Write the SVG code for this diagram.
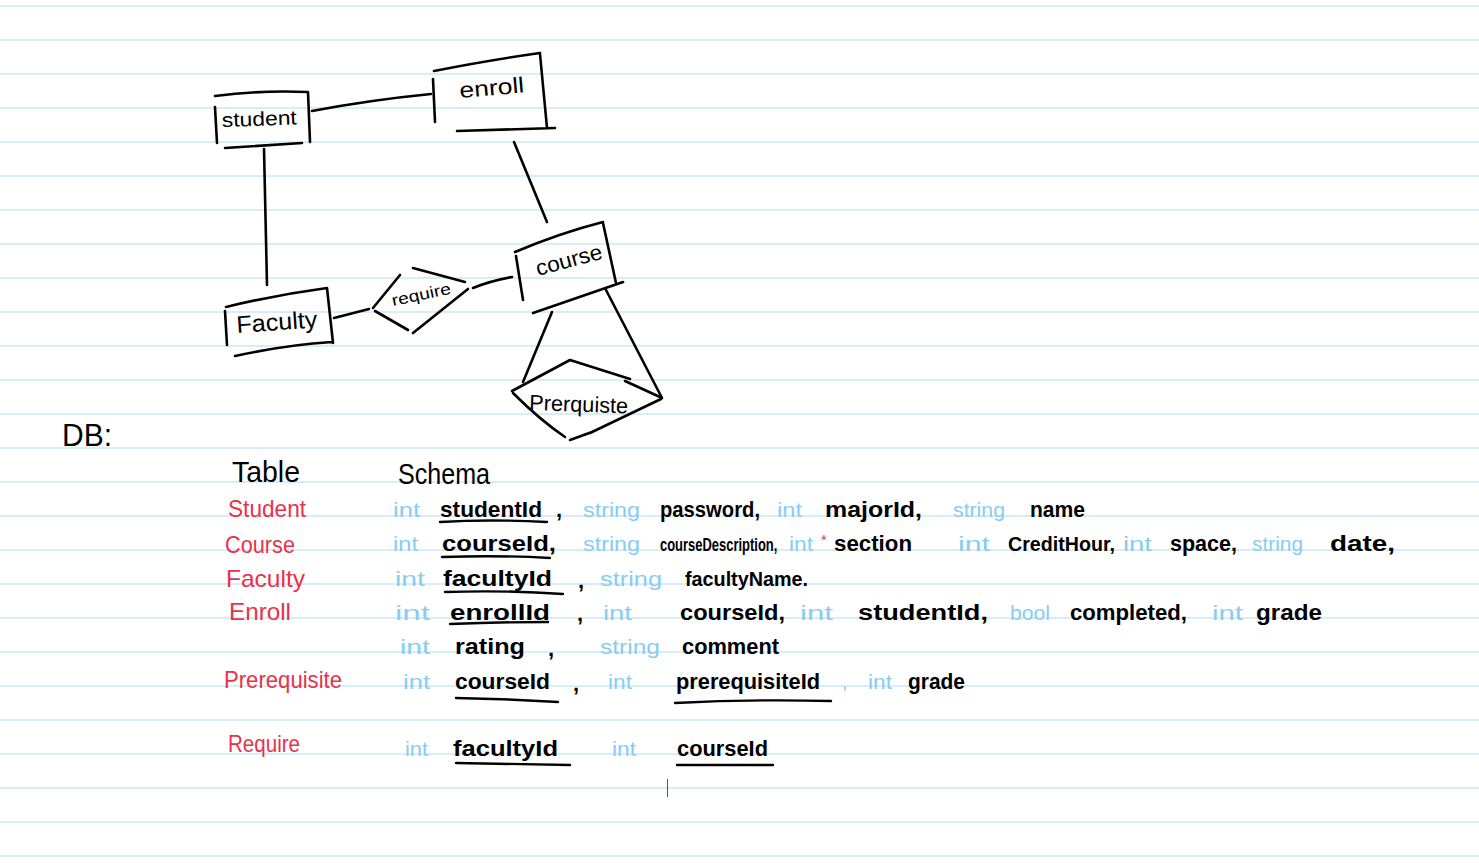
<svg xmlns="http://www.w3.org/2000/svg" width="1479" height="863" viewBox="0 0 1479 863">
<defs>
<style>
.rule{stroke:#cbe7f8;stroke-width:1.5}
.ink{fill:none;stroke:#000;stroke-width:2.6;stroke-linecap:round;stroke-linejoin:round}
.ul{fill:none;stroke:#000;stroke-width:2.4;stroke-linecap:round}
.lbl{font-family:"Liberation Sans",Arial,sans-serif;fill:#000}
.b{font-family:"Liberation Sans",Arial,sans-serif;font-size:22px;font-weight:bold;fill:#000}
.t{font-family:"Liberation Sans",Arial,sans-serif;font-size:20px;fill:#86cdf1}
.r{font-family:"Liberation Sans",Arial,sans-serif;font-size:24px;fill:#e8324a}
.h{font-family:"Liberation Sans",Arial,sans-serif;font-size:30px;fill:#000}
</style>
</defs>
<rect width="1479" height="863" fill="#fff"/>
<g id="paper-rules">
<line class="rule" x1="0" y1="6" x2="1479" y2="6"/>
<line class="rule" x1="0" y1="40" x2="1479" y2="40"/>
<line class="rule" x1="0" y1="74" x2="1479" y2="74"/>
<line class="rule" x1="0" y1="108" x2="1479" y2="108"/>
<line class="rule" x1="0" y1="142" x2="1479" y2="142"/>
<line class="rule" x1="0" y1="176" x2="1479" y2="176"/>
<line class="rule" x1="0" y1="210" x2="1479" y2="210"/>
<line class="rule" x1="0" y1="244" x2="1479" y2="244"/>
<line class="rule" x1="0" y1="278" x2="1479" y2="278"/>
<line class="rule" x1="0" y1="312" x2="1479" y2="312"/>
<line class="rule" x1="0" y1="346" x2="1479" y2="346"/>
<line class="rule" x1="0" y1="380" x2="1479" y2="380"/>
<line class="rule" x1="0" y1="414" x2="1479" y2="414"/>
<line class="rule" x1="0" y1="448" x2="1479" y2="448"/>
<line class="rule" x1="0" y1="482" x2="1479" y2="482"/>
<line class="rule" x1="0" y1="516" x2="1479" y2="516"/>
<line class="rule" x1="0" y1="550" x2="1479" y2="550"/>
<line class="rule" x1="0" y1="584" x2="1479" y2="584"/>
<line class="rule" x1="0" y1="618" x2="1479" y2="618"/>
<line class="rule" x1="0" y1="652" x2="1479" y2="652"/>
<line class="rule" x1="0" y1="686" x2="1479" y2="686"/>
<line class="rule" x1="0" y1="720" x2="1479" y2="720"/>
<line class="rule" x1="0" y1="754" x2="1479" y2="754"/>
<line class="rule" x1="0" y1="788" x2="1479" y2="788"/>
<line class="rule" x1="0" y1="822" x2="1479" y2="822"/>
<line class="rule" x1="0" y1="856" x2="1479" y2="856"/>
</g>
<g id="connectors">
<path class="ink" d="M312,111 Q370,100 431,94"/>
<path class="ink" d="M264,149 L267,285"/>
<path class="ink" d="M514,142 L547,222"/>
<path class="ink" d="M334,318 L369,309"/>
<path class="ink" d="M473,288 Q490,281 512,277"/>
<path class="ink" d="M552,312 L523,382"/>
<path class="ink" d="M606,290 L662,398"/>
</g>
<g id="node-student">
<path class="ink" d="M215,96 Q260,90 308,92 M215,107 L217,143 M308,92 L310,142 M225,148 L302,143"/>
<text class="lbl" x="222" y="127" font-size="20" textLength="75" lengthAdjust="spacingAndGlyphs" transform="rotate(-2 222 127)">student</text>
</g>
<g id="node-enroll">
<path class="ink" d="M434,71 Q490,60 540,53 M433,79 L435,122 M540,54 L547,128 M457,131 L555,128"/>
<text class="lbl" x="460" y="98" font-size="22" textLength="65" lengthAdjust="spacingAndGlyphs" transform="rotate(-5 460 98)">enroll</text>
</g>
<g id="node-course">
<path class="ink" d="M515,252 Q560,233 603,222 M516,256 L523,300 M603,223 L616,283 M533,313 L623,282"/>
<text class="lbl" x="538" y="276" font-size="22" textLength="68" lengthAdjust="spacingAndGlyphs" transform="rotate(-15 538 276)">course</text>
</g>
<g id="node-faculty">
<path class="ink" d="M226,307 Q275,295 327,288 M225,311 L227,345 M327,288 L333,343 M235,356 Q285,345 332,342"/>
<text class="lbl" x="237" y="333" font-size="24" textLength="81" lengthAdjust="spacingAndGlyphs" transform="rotate(-4 237 333)">Faculty</text>
</g>
<g id="node-require">
<path class="ink" d="M373,308 L400,275 M413,268 L465,282 M468,289 L413,333 M375,311 L408,330"/>
<text class="lbl" x="393" y="306" font-size="16" textLength="60" lengthAdjust="spacingAndGlyphs" transform="rotate(-12 393 306)">require</text>
</g>
<g id="node-prerquiste">
<path class="ink" d="M512,391 L570,360 L630,379 M625,381 L660,397 M513,393 Q540,420 565,437 M661,399 L590,433 M570,440 L592,432"/>
<text class="lbl" x="529" y="410" font-size="22" textLength="99" lengthAdjust="spacingAndGlyphs" transform="rotate(2 529 410)">Prerquiste</text>
</g>
<g id="db-heading">
<text class="h" x="62" y="446" style="font-size:32px" textLength="50" lengthAdjust="spacingAndGlyphs">DB:</text>
<text class="h" x="232" y="482" textLength="68" lengthAdjust="spacingAndGlyphs">Table</text>
<text class="h" x="398" y="484" textLength="92" lengthAdjust="spacingAndGlyphs">Schema</text>
</g>
<g id="table-names">
<text class="r" x="228" y="517" textLength="78" lengthAdjust="spacingAndGlyphs">Student</text>
<text class="r" x="225" y="553" textLength="70" lengthAdjust="spacingAndGlyphs">Course</text>
<text class="r" x="226" y="587" textLength="79" lengthAdjust="spacingAndGlyphs">Faculty</text>
<text class="r" x="229" y="620" textLength="62" lengthAdjust="spacingAndGlyphs">Enroll</text>
<text class="r" x="224" y="688" textLength="118" lengthAdjust="spacingAndGlyphs">Prerequisite</text>
<text class="r" x="228" y="752" textLength="72" lengthAdjust="spacingAndGlyphs">Require</text>
</g>
<g id="row-student">
<text class="t" x="393" y="517" textLength="27" lengthAdjust="spacingAndGlyphs">int</text>
<text class="b" x="440" y="517" textLength="102" lengthAdjust="spacingAndGlyphs">studentId</text>
<text class="b" x="556" y="517">,</text>
<text class="t" x="583" y="517" textLength="57" lengthAdjust="spacingAndGlyphs">string</text>
<text class="b" x="660" y="517" textLength="100" lengthAdjust="spacingAndGlyphs">password,</text>
<text class="t" x="777" y="517" textLength="25" lengthAdjust="spacingAndGlyphs">int</text>
<text class="b" x="825" y="517" textLength="97" lengthAdjust="spacingAndGlyphs">majorId,</text>
<text class="t" x="953" y="517" textLength="52" lengthAdjust="spacingAndGlyphs">string</text>
<text class="b" x="1030" y="517" textLength="55" lengthAdjust="spacingAndGlyphs">name</text>
<path class="ul" d="M440,522 Q490,519 547,522"/>
</g>
<g id="row-course">
<text class="t" x="393" y="551" textLength="25" lengthAdjust="spacingAndGlyphs">int</text>
<text class="b" x="442" y="551" textLength="114" lengthAdjust="spacingAndGlyphs">courseId,</text>
<text class="t" x="583" y="551" textLength="57" lengthAdjust="spacingAndGlyphs">string</text>
<text class="b" style="font-size:18px" transform="translate(660 551) scale(0.72 1)">courseDescription,</text>
<text class="t" x="789" y="551" textLength="24" lengthAdjust="spacingAndGlyphs">int</text>
<text x="821" y="545" font-family="Liberation Sans, Arial, sans-serif" font-size="15" fill="#e8324a">*</text>
<text class="b" x="834" y="551" textLength="78" lengthAdjust="spacingAndGlyphs">section</text>
<text class="t" x="958" y="551" textLength="32" lengthAdjust="spacingAndGlyphs">int</text>
<text class="b" x="1008" y="551" style="font-size:20px" textLength="107" lengthAdjust="spacingAndGlyphs">CreditHour,</text>
<text class="t" x="1123" y="551" textLength="29" lengthAdjust="spacingAndGlyphs">int</text>
<text class="b" x="1170" y="551" textLength="67" lengthAdjust="spacingAndGlyphs">space,</text>
<text class="t" x="1252" y="551" textLength="51" lengthAdjust="spacingAndGlyphs">string</text>
<text class="b" x="1330" y="551" textLength="65" lengthAdjust="spacingAndGlyphs">date,</text>
<path class="ul" d="M442,557 Q500,555 550,558"/>
</g>
<g id="row-faculty">
<text class="t" x="395" y="586" textLength="30" lengthAdjust="spacingAndGlyphs">int</text>
<text class="b" x="443" y="586" textLength="109" lengthAdjust="spacingAndGlyphs">facultyId</text>
<text class="b" x="578" y="588">,</text>
<text class="t" x="600" y="586" textLength="62" lengthAdjust="spacingAndGlyphs">string</text>
<text class="b" x="685" y="586" style="font-size:20px" textLength="123" lengthAdjust="spacingAndGlyphs">facultyName.</text>
<path class="ul" d="M445,592 Q505,590 563,594"/>
</g>
<g id="row-enroll">
<text class="t" x="395" y="620" textLength="35" lengthAdjust="spacingAndGlyphs">int</text>
<text class="b" x="450" y="620" textLength="100" lengthAdjust="spacingAndGlyphs">enrollId</text>
<text class="b" x="577" y="621">,</text>
<text class="t" x="603" y="620" textLength="29" lengthAdjust="spacingAndGlyphs">int</text>
<text class="b" x="680" y="620" textLength="105" lengthAdjust="spacingAndGlyphs">courseId,</text>
<text class="t" x="800" y="620" textLength="33" lengthAdjust="spacingAndGlyphs">int</text>
<text class="b" x="858" y="620" textLength="130" lengthAdjust="spacingAndGlyphs">studentId,</text>
<text class="t" x="1010" y="620" textLength="40" lengthAdjust="spacingAndGlyphs">bool</text>
<text class="b" x="1070" y="620" textLength="117" lengthAdjust="spacingAndGlyphs">completed,</text>
<text class="t" x="1212" y="620" textLength="31" lengthAdjust="spacingAndGlyphs">int</text>
<text class="b" x="1256" y="620" textLength="66" lengthAdjust="spacingAndGlyphs">grade</text>
<path class="ul" d="M450,624 Q500,622 548,622"/>
</g>
<g id="row-enroll-2">
<text class="t" x="400" y="654" textLength="30" lengthAdjust="spacingAndGlyphs">int</text>
<text class="b" x="455" y="654" textLength="70" lengthAdjust="spacingAndGlyphs">rating</text>
<text class="b" x="548" y="656">,</text>
<text class="t" x="600" y="654" textLength="60" lengthAdjust="spacingAndGlyphs">string</text>
<text class="b" x="682" y="654" textLength="97" lengthAdjust="spacingAndGlyphs">comment</text>
</g>
<g id="row-prerequisite">
<text class="t" x="403" y="689" textLength="27" lengthAdjust="spacingAndGlyphs">int</text>
<text class="b" x="455" y="689" textLength="95" lengthAdjust="spacingAndGlyphs">courseId</text>
<text class="b" x="573" y="691">,</text>
<text class="t" x="608" y="689" textLength="24" lengthAdjust="spacingAndGlyphs">int</text>
<text class="b" x="676" y="689" textLength="144" lengthAdjust="spacingAndGlyphs">prerequisiteId</text>
<text class="t" x="842" y="689">,</text>
<text class="t" x="868" y="689" textLength="24" lengthAdjust="spacingAndGlyphs">int</text>
<text class="b" x="908" y="689" textLength="57" lengthAdjust="spacingAndGlyphs">grade</text>
<path class="ul" d="M456,698 Q510,699 558,702"/>
<path class="ul" d="M675,703 Q750,699 831,701"/>
</g>
<g id="row-require">
<text class="t" x="405" y="756" textLength="23" lengthAdjust="spacingAndGlyphs">int</text>
<text class="b" x="453" y="756" textLength="105" lengthAdjust="spacingAndGlyphs">facultyId</text>
<text class="t" x="612" y="756" textLength="24" lengthAdjust="spacingAndGlyphs">int</text>
<text class="b" x="677" y="756" textLength="91" lengthAdjust="spacingAndGlyphs">courseId</text>
<path class="ul" d="M456,763 Q515,764 570,765"/>
<path class="ul" d="M677,765 L773,765"/>
</g>
<line x1="667.5" y1="779" x2="667.5" y2="797" stroke="#555" stroke-width="1"/>
</svg>
